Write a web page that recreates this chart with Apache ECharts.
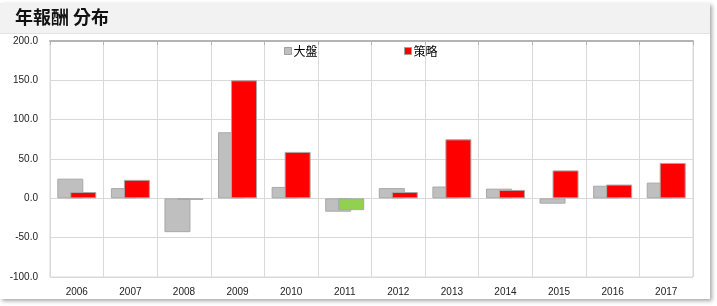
<!DOCTYPE html>
<html><head><meta charset="utf-8">
<script src="https://cdn.jsdelivr.net/npm/echarts@6/dist/echarts.min.js"></script>
<style>html,body{margin:0;padding:0;background:#fff}#c{width:717px;height:306px}</style>
</head><body><div id="c"></div>
<script>
const categories = ['2006','2007','2008','2009','2010','2011','2012','2013','2014','2015','2016','2017'];
const marketValues = [25, 13, -43, 84, 14.5, -17, 13, 15, 12.3, -6.8, 16, 20];
const strategyValues = [8, 23.5, -2, 150, 59, -15, 8, 75, 10.7, 35.5, 17.5, 45];
const yTicks = [-100, -50, 0, 50, 100, 150, 200];
const titleText = '年報酬 分布';
const seriesNames = ['大盤', '策略'];

const chart = echarts.init(document.getElementById('c'));
const fontFam = 'Liberation Sans, Arial, sans-serif';
chart.setOption({
  animation: false,
  backgroundColor: '#fff',
  graphic: [
    {type:'rect', z:-20, shape:{x:0,y:3,width:710,height:296}, style:{fill:'#fff', shadowBlur:4, shadowColor:'rgba(0,0,0,0.35)', shadowOffsetX:2, shadowOffsetY:2}},
    {type:'rect', z:-19, shape:{x:0,y:3,width:710,height:30}, style:{fill:'#f2f2f2'}},
    {type:'line', z:-18, shape:{x1:0,y1:33.5,x2:710,y2:33.5}, style:{stroke:'#e2e2e2', lineWidth:1}},
    {type:'text', z:5, left:15, top:8, style:{text:titleText, fontSize:18, fontWeight:'bold', fill:'#111', fontFamily:'Noto Sans CJK TC, sans-serif'}}
  ],
  legend: [
    {data:[seriesNames[0]], left:279, top:40, itemWidth:7, itemHeight:7, itemGap:4, icon:'rect',
     itemStyle:{borderColor:'#a0a0a0', borderWidth:1},
     textStyle:{fontSize:12, color:'#000', fontFamily:'Noto Sans CJK TC, sans-serif', padding:[0,0,0,-3]}},
    {data:[seriesNames[1]], left:399, top:40, itemWidth:7, itemHeight:7, itemGap:4, icon:'rect',
     itemStyle:{borderColor:'#a0a0a0', borderWidth:1},
     textStyle:{fontSize:12, color:'#000', fontFamily:'Noto Sans CJK TC, sans-serif', padding:[0,0,0,-3]}}
  ],
  grid: {left:50, right:24, top:41, bottom:29, show:true, borderColor:'#d9d9d9', borderWidth:1, backgroundColor:'transparent'},
  xAxis: [
    {type:'category', data:categories, position:'bottom', boundaryGap:true,
     axisLine:{show:false}, axisTick:{show:false},
     axisLabel:{fontSize:10, color:'#222', margin:10, fontFamily:fontFam},
     splitLine:{show:true, lineStyle:{color:'#d9d9d9', width:1}}},
    {type:'category', data:categories, position:'top', boundaryGap:true,
     axisLine:{show:true, onZero:true, lineStyle:{color:'#b4b4b4', width:2}},
     axisTick:{show:true, inside:true, length:4, lineStyle:{color:'#b4b4b4'}},
     axisLabel:{show:false}, splitLine:{show:false}}
  ],
  yAxis: {type:'value', min:yTicks[0], max:yTicks[yTicks.length-1], interval:50,
    axisLine:{show:false}, axisTick:{show:false},
    axisLabel:{fontSize:10, color:'#222', margin:12, fontFamily:fontFam, formatter:v=>v.toFixed(1)},
    splitLine:{show:true, lineStyle:{color:'#d9d9d9', width:1}}},
  series: [
    {name:seriesNames[0], type:'bar', xAxisIndex:0, data:marketValues, barWidth:26, barGap:'-50%',
     itemStyle:{color:'#bfbfbf', borderColor:'#a8a8a8', borderWidth:1}},
    {name:seriesNames[1], type:'bar', xAxisIndex:0, barWidth:26, barGap:'-50%',
     data:strategyValues.map(v=>({value:v, itemStyle:{color: v<0 ? '#92d050' : '#ff0000'}})),
     itemStyle:{color:'#ff0000', borderColor:'#a8a8a8', borderWidth:1}}
  ]
});
</script></body></html>
